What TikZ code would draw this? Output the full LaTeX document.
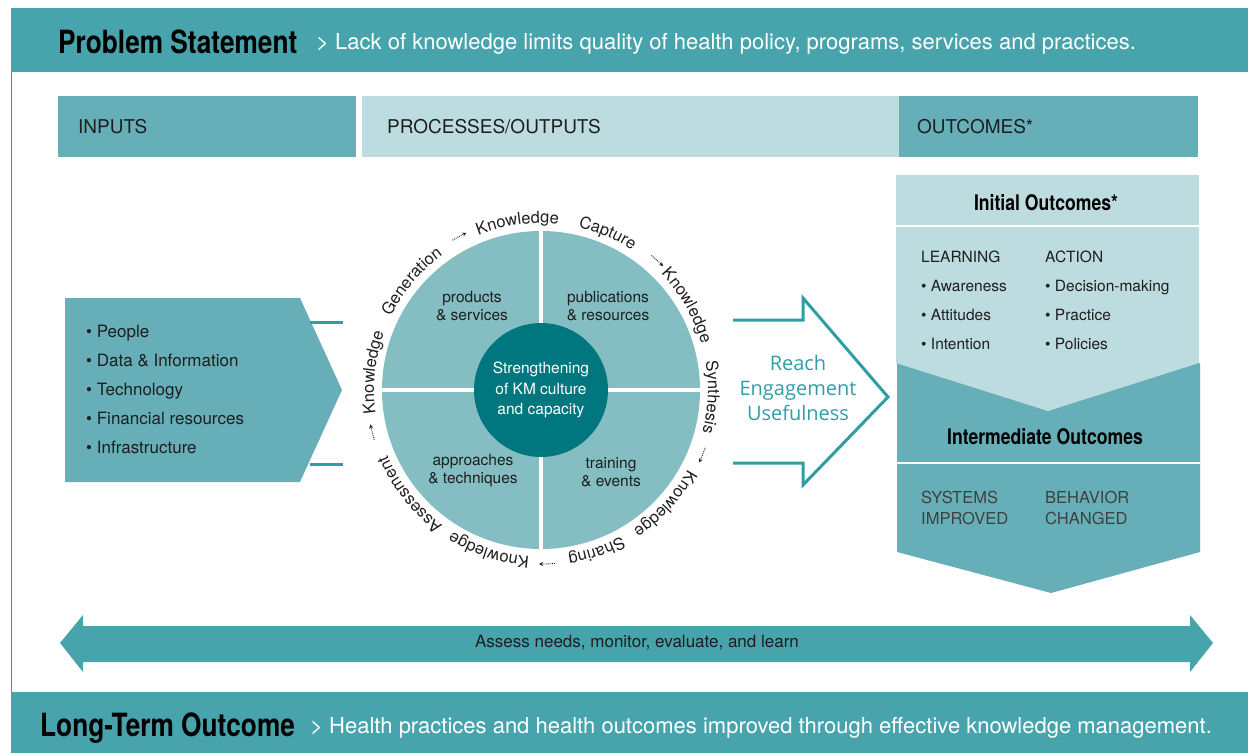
\documentclass[tikz,border=0pt]{standalone}
\usepackage{fontspec}
\setmainfont{TeX Gyre Heros}
\newfontfamily\condfont{TeX Gyre Heros}[FakeStretch=0.82]
\newfontfamily\reachfont{Open Sans}
\usepackage{xcolor}
\usetikzlibrary{arrows.meta,positioning,calc,decorations.text}

\definecolor{bandteal}{HTML}{47A4AC}
\definecolor{midteal}{HTML}{66AFB8}
\definecolor{paleteal}{HTML}{BCDCDF}
\definecolor{ringteal}{HTML}{84BEC3}
\definecolor{deepteal}{HTML}{00777E}
\definecolor{lineteal}{HTML}{2E9EA6}
\definecolor{inkgray}{HTML}{1E1E1E}

\newcommand\ringfont{\fontsize{16.5}{16.5}\selectfont}

\begin{document}
\begin{tikzpicture}[
            x=1pt, y=1pt,
            headbox/.style={anchor=north west, minimum height=61, inner xsep=20, align=left, font=\fontsize{19}{19}\selectfont, text=inkgray},
            bigtitle/.style={anchor=base west, inner sep=0, font=\condfont\bfseries\fontsize{32}{32}\selectfont, text=black},
            subtitle/.style={anchor=base west, inner sep=0, font=\fontsize{22}{22}\selectfont, text=white},
            listtext/.style={anchor=north west, align=left, inner sep=0, text=inkgray},
            quadtext/.style={align=center, font=\fontsize{15.5}{18}\selectfont, text=inkgray},
            boldhead/.style={font=\condfont\bfseries\fontsize{21.5}{21.5}\selectfont, text=black},
            ringlabel/.style={decorate, decoration={text along path, text align=center, text color=inkgray}},
            ringarrow/.style={densely dotted, line width=0.9, draw=inkgray, -{Stealth[length=4pt,width=4pt]}},
            linkline/.style={draw=lineteal, line width=3}
        ]
        \useasboundingbox (0,0) rectangle (1248,-753);

        % top and bottom bands, frame line
        \fill[bandteal] (11,-8) rectangle (1248,-72);
        \draw[lineteal, line width=1.2] (11.6,-72) -- (11.6,-692);
        \node[bigtitle] (problem) at (58,-53.5) {Problem Statement};
        \node[subtitle] (lack) at (316,-49) {> Lack of knowledge limits quality of health policy, programs, services and practices.};

        % column heads
        \node[headbox, fill=midteal, minimum width=298, text width=258] (inputs) at (58,-96) {INPUTS};
        \node[headbox, fill=paleteal, minimum width=532, text width=487, inner xsep=25] (processes) at (362,-96) {PROCESSES/OUTPUTS};
        \node[headbox, fill=midteal, minimum width=299, text width=263, inner xsep=18] (outcomes) at (899,-96) {OUTCOMES*};

        % inputs
        \fill[midteal] (65,-298) -- (300,-298) -- (342,-390) -- (300,-482) -- (65,-482) -- cycle;
        \node[listtext, font=\fontsize{17}{29}\selectfont] (inlist) at (86,-325)
            {\textbullet\ People\\\textbullet\ Data \& Information\\\textbullet\ Technology\\\textbullet\ Financial resources\\\textbullet\ Infrastructure};
        \coordinate (intop) at (310,-322);
        \coordinate (inbot) at (310,-464);
        \draw[linkline] (intop) -- ++(33,0);
        \draw[linkline] (inbot) -- ++(33,0);

        % the wheel
        \node[circle, fill=ringteal, minimum size=318, inner sep=0] (wheel) at (541,-390) {};
        \draw[white, line width=3.5] (wheel.north) -- (wheel.south);
        \draw[white, line width=3.5] (wheel.west) -- (wheel.east);
        \node[circle, fill=deepteal, minimum size=134, inner sep=0, align=center, text=white, font=\fontsize{15.5}{20.5}\selectfont] (core) at (wheel.center) {Strengthening\\of KM culture\\and capacity};
        \node[quadtext] (products) at (472,-306) {products\\\& services};
        \node[quadtext] (publications) at (608,-306) {publications\\\& resources};
        \node[quadtext] (approaches) at (473,-471) {approaches\\\& techniques};
        \node[quadtext] (training) at (611,-472) {training\\\& events};

        \begin{scope}[shift={(wheel.center)}]
            \foreach \ang/\word in {98/Knowledge, 67/Capture, 30/Knowledge, -2.5/Synthesis, -42.5/Knowledge,
                                    -71/Sharing, -108/Knowledge, -141.5/Assessment, 174/Knowledge, 140/Generation}
                \path[ringlabel, decoration={text/.expanded={|\noexpand\ringfont|\word}}]
                    (\ang+35:167) arc[start angle=\ang+35, end angle=\ang-35, radius=167];
            \foreach \ang in {118,48,-22,-88,-166}
                \draw[ringarrow] (\ang+2.6:174) arc[start angle=\ang+2.6, end angle=\ang-2.6, radius=174];
        \end{scope}

        % open arrow towards outcomes
        \draw[draw=lineteal, line width=3, line join=miter]
            (733,-320) -- (803,-320) -- (803,-298) -- (888,-397) -- (803,-485) -- (803,-463) -- (733,-463);
        \node[align=center, text=lineteal, font=\reachfont\fontsize{20}{25}\selectfont] (reach) at (798,-388) {Reach\\Engagement\\Usefulness};

        % outcomes column
        \fill[paleteal] (896,-175) rectangle (1199,-225);
        \fill[midteal] (897,-363) -- (1200,-363) -- (1200,-552) -- (1051,-593) -- (897,-552) -- cycle;
        \fill[paleteal] (896,-227) -- (1199,-227) -- (1199,-363) -- (1048,-411) -- (896,-363) -- cycle;
        \draw[white, line width=1.5] (897,-463) -- (1200,-463);
        \node[boldhead] (initial) at (1046,-203) {Initial Outcomes*};
        \node[listtext, font=\fontsize{15.5}{29}\selectfont] (learning) at (921,-250.5)
            {LEARNING\\\textbullet\ Awareness\\\textbullet\ Attitudes\\\textbullet\ Intention};
        \node[listtext, font=\fontsize{15.5}{29}\selectfont] (action) at (1045,-250.5)
            {ACTION\\\textbullet\ Decision-making\\\textbullet\ Practice\\\textbullet\ Policies};
        \node[boldhead] (intermediate) at (1045,-437) {Intermediate Outcomes};
        \node[listtext, font=\fontsize{16.5}{21}\selectfont, text=black!75] (systems) at (921,-491) {SYSTEMS\\IMPROVED};
        \node[listtext, font=\fontsize{16.5}{21}\selectfont, text=black!75] (behavior) at (1045,-491) {BEHAVIOR\\CHANGED};

        % monitoring arrow
        \fill[bandteal] (60,-643) -- (83,-615) -- (83,-626) -- (1190,-626) -- (1190,-615) -- (1213,-643)
            -- (1190,-672) -- (1190,-662) -- (83,-662) -- (83,-672) -- cycle;
        \node[text=inkgray, font=\fontsize{17}{17}\selectfont] (assess) at (637,-643) {Assess needs, monitor, evaluate, and learn};

        \fill[bandteal] (11,-692) rectangle (1248,-753);
        \node[bigtitle] (longterm) at (40,-736.5) {Long-Term Outcome};
        \node[subtitle] (health) at (310,-733) {> Health practices and health outcomes improved through effective knowledge management.};
    \end{tikzpicture}
\end{document}
